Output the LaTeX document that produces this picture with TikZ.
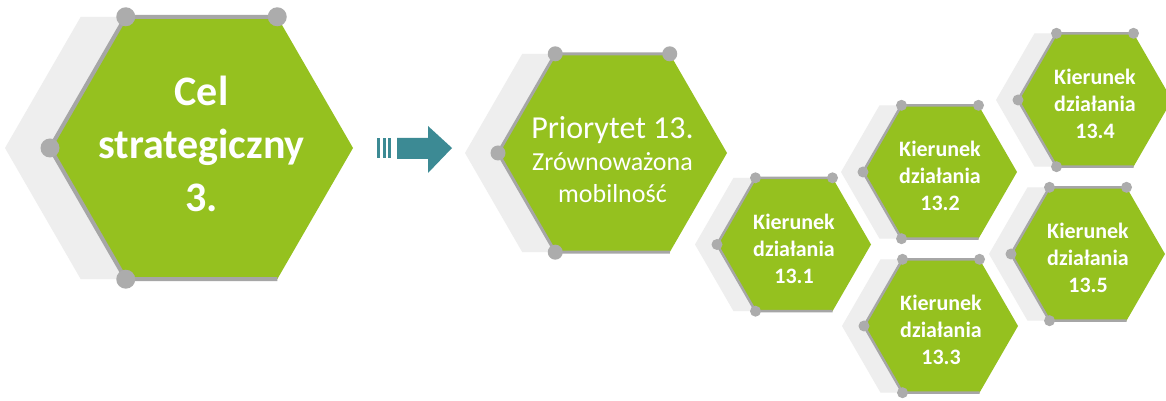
\documentclass[tikz,border=0pt]{standalone}
\usepackage{fontspec}
\setmainfont{Carlito}
\usetikzlibrary{backgrounds}
\definecolor{hexgreen}{RGB}{149,193,31}
\definecolor{hexedgec}{RGB}{166,166,166}
\definecolor{hexdotc}{RGB}{172,172,172}
\definecolor{hexshadowc}{RGB}{238,238,238}
\definecolor{arrowteal}{RGB}{60,138,148}
\newcommand\hexcell[7]{% name, cx, cy (from top), R, shadow offset, dot radius, line width
  \coordinate (#1) at (#2,{401-#3});
  \begin{pgfonlayer}{background}
    \fill[hexshadowc] ([xshift=-#5pt]#1) +(0:#4pt) -- +(60:#4pt) -- +(120:#4pt) -- +(180:#4pt) -- +(240:#4pt) -- +(300:#4pt) -- cycle;
  \end{pgfonlayer}
  \fill[hexgreen] (#1) +(0:#4pt) -- +(60:#4pt) -- +(120:#4pt) -- +(180:#4pt) -- +(240:#4pt) -- +(300:#4pt) -- cycle;
  \draw[hexedgec, line width=#7pt, line join=round] (#1) +(60:#4pt) -- +(120:#4pt) -- +(180:#4pt) -- +(240:#4pt) -- +(300:#4pt);
  \foreach \a in {60,120,180,240} \fill[hexdotc] (#1) +(\a:#4pt) circle[radius=#6pt];
}
\begin{document}
\begin{tikzpicture}[x=1pt,y=1pt,
  bigtext/.style={text=white, align=center, inner sep=0pt, font=\bfseries\fontsize{42}{53}\selectfont},
  prtext/.style={text=white, align=center, inner sep=0pt, font=\fontsize{26}{32}\selectfont},
  kdtext/.style={text=white, align=center, inner sep=0pt, font=\bfseries\fontsize{22}{27}\selectfont}]
\useasboundingbox (0,0) rectangle (1166,401);
\begin{pgfonlayer}{background}
\fill[white] (0,0) rectangle (1166,401);
\end{pgfonlayer}
\hexcell{cel}{201.5}{148}{151.5}{45}{9.5}{4}
\hexcell{pr}{612.5}{153}{114.5}{33}{7.5}{3}
\hexcell{k1}{794}{244.5}{77}{22}{5.5}{2.5}
\hexcell{k2}{940}{172}{77}{22}{5.5}{2.5}
\hexcell{k3}{941}{326}{77}{22}{5.5}{2.5}
\hexcell{k4}{1095}{100}{77}{22}{5.5}{2.5}
\hexcell{k5}{1088}{254}{77}{22}{5.5}{2.5}
\node[bigtext] (celT) at ([yshift=4.5pt]cel) {Cel\\strategiczny\\3.};
\node[prtext] (prT) at ([yshift=-6.5pt]pr) {{\fontsize{32}{32}\selectfont Priorytet 13.}\\Zrównoważona\\mobilność};
\node[kdtext] (k1T) at ([yshift=-4pt]k1) {Kierunek\\działania\\13.1};
\node[kdtext] (k2T) at ([yshift=-4pt]k2) {Kierunek\\działania\\13.2};
\node[kdtext] (k3T) at ([yshift=-4pt]k3) {Kierunek\\działania\\13.3};
\node[kdtext] (k4T) at ([yshift=-4pt]k4) {Kierunek\\działania\\13.4};
\node[kdtext] (k5T) at ([yshift=-4pt]k5) {Kierunek\\działania\\13.5};
% block arrow
\fill[arrowteal] (377,{401-138}) rectangle (380,{401-158});
\fill[arrowteal] (382.5,{401-138}) rectangle (386,{401-158});
\fill[arrowteal] (388,{401-138}) rectangle (391,{401-158});
\fill[arrowteal] (397,{401-138}) -- (428,{401-138}) -- (428,{401-126}) -- (452,{401-148}) -- (428,{401-173}) -- (428,{401-159}) -- (397,{401-159}) -- cycle;
\end{tikzpicture}
\end{document}
